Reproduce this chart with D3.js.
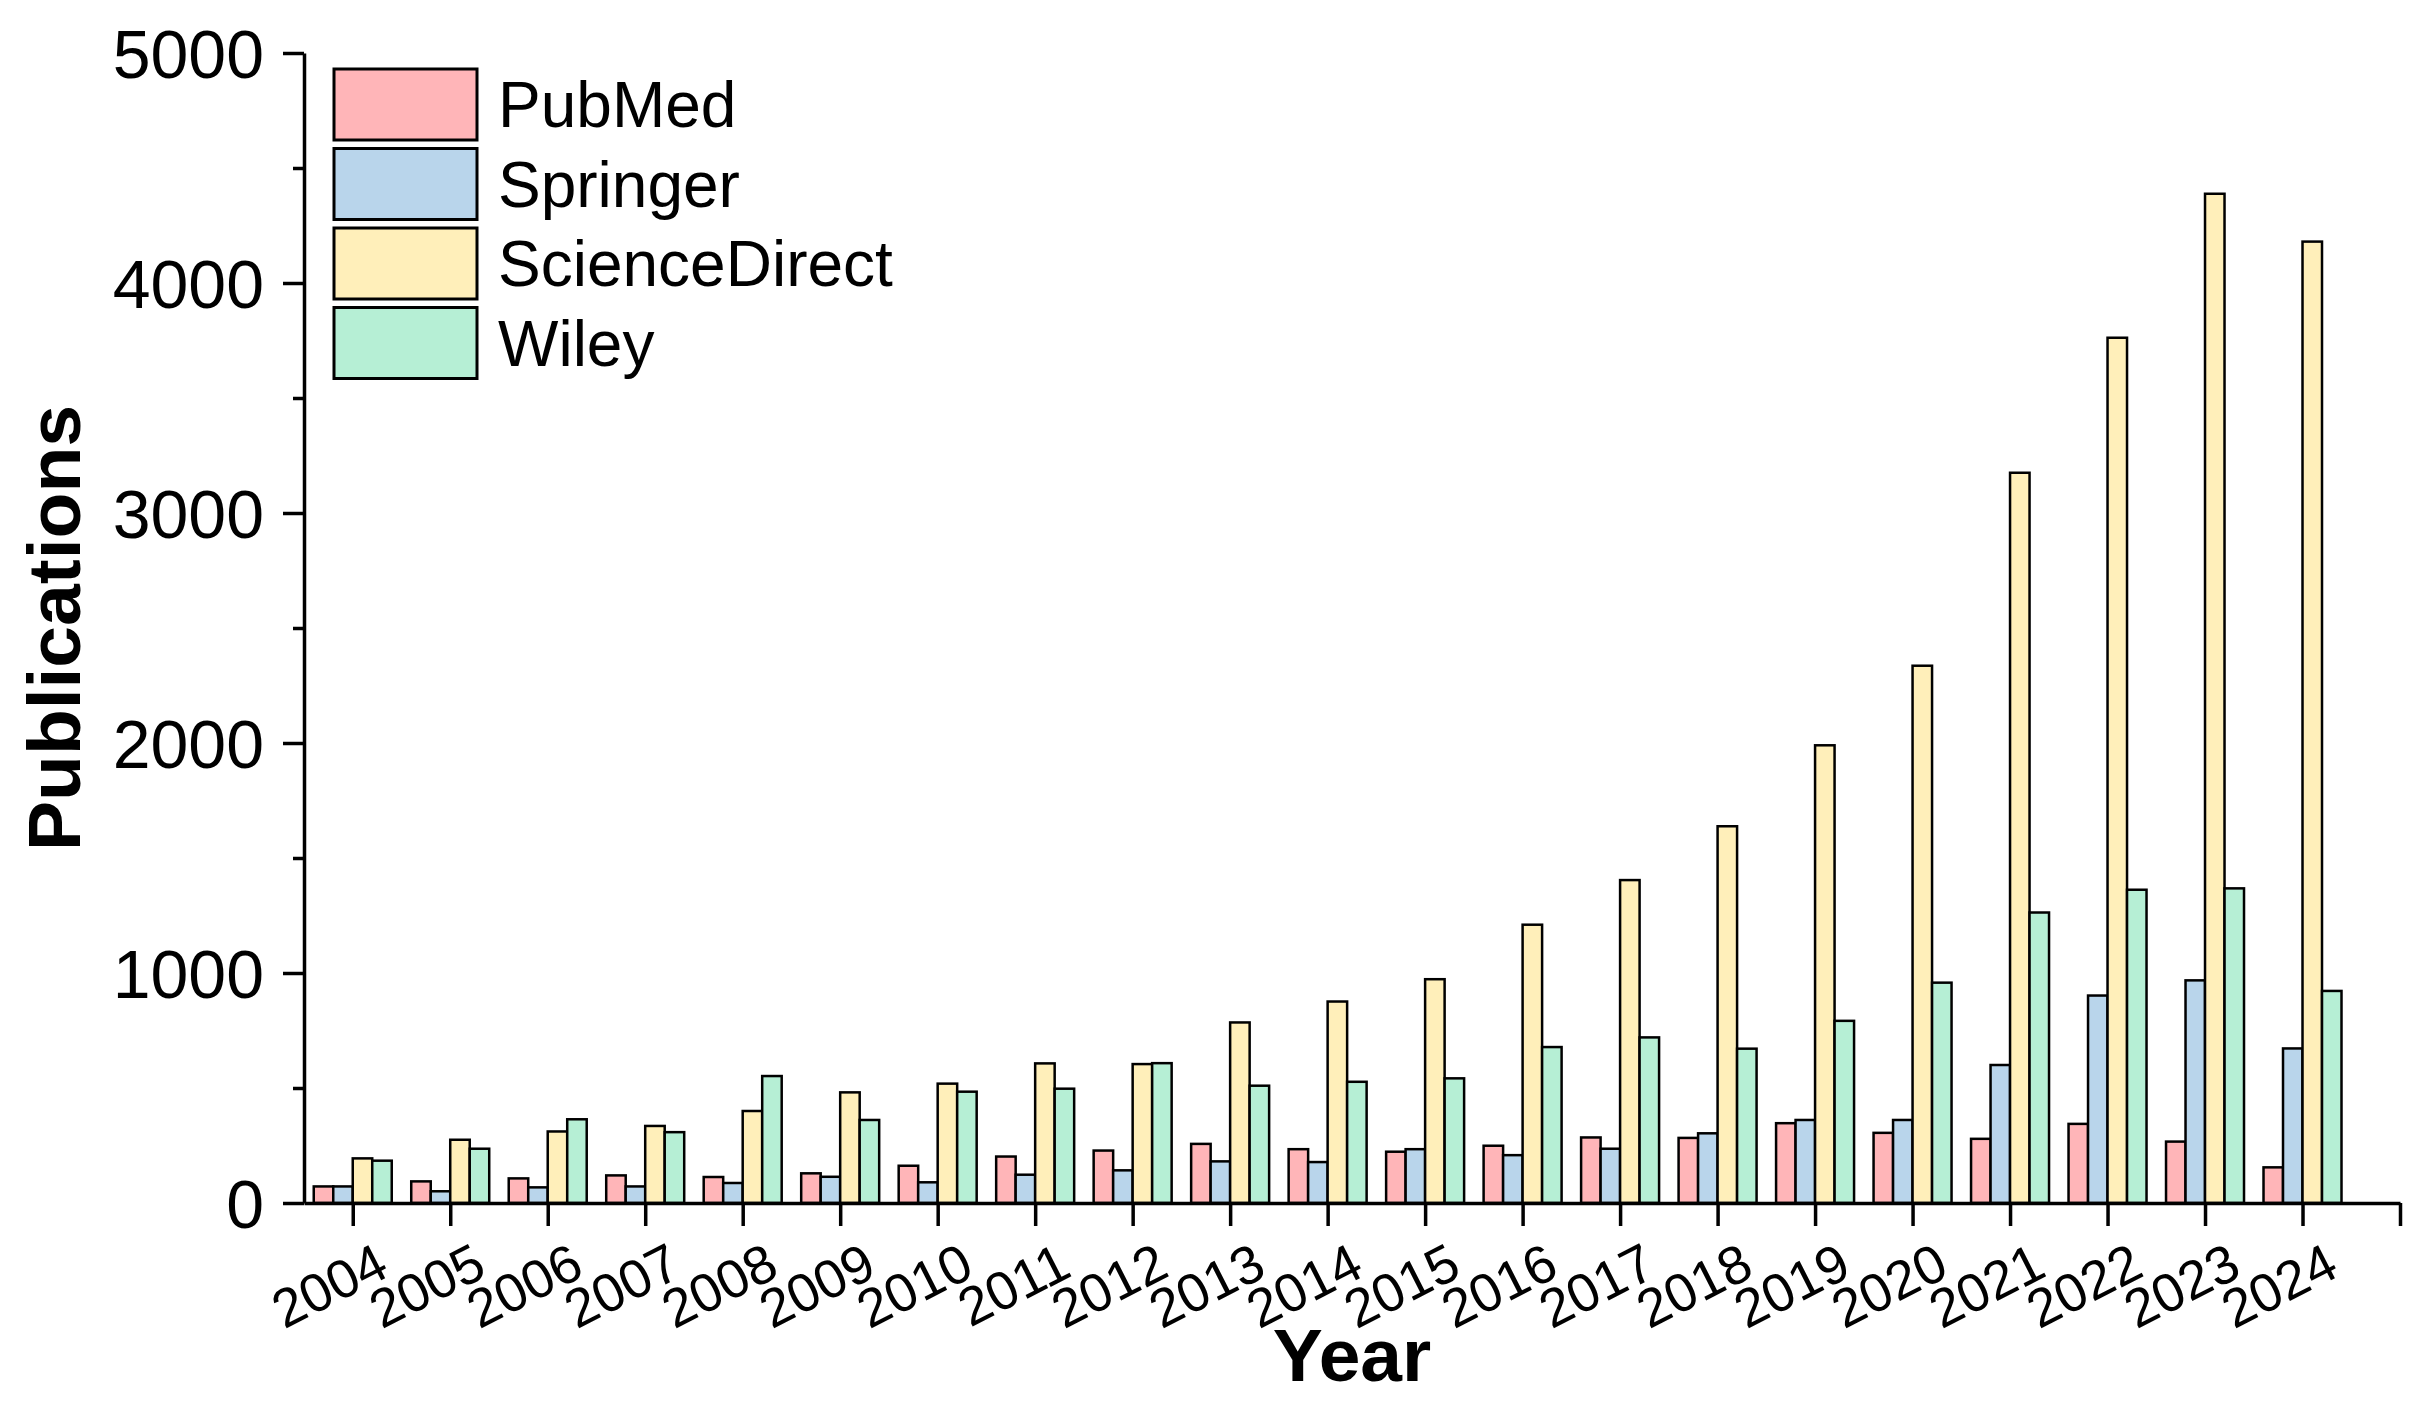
<!DOCTYPE html>
<html>
<head>
<meta charset="utf-8">
<script src="https://cdn.jsdelivr.net/npm/d3@7"></script>
<style>
  body { margin: 0; background: #fff; }
  svg text { font-family: "Liberation Sans", Arial, sans-serif; fill: #000; }
</style>
</head>
<body>
<svg id="chart"></svg>
<script>
// values
var years = [2004, 2005, 2006, 2007, 2008, 2009, 2010, 2011, 2012, 2013, 2014,
             2015, 2016, 2017, 2018, 2019, 2020, 2021, 2022, 2023, 2024];
var seriesNames = ["PubMed", "Springer", "ScienceDirect", "Wiley"];
var pubmed = [72, 94, 107, 120, 113, 129, 162, 202, 228, 257, 234,
              223, 249, 285, 283, 347, 305, 279, 344, 267, 155];
var springer = [72, 51, 68, 72, 87, 114, 90, 123, 142, 181, 178,
                234, 208, 236, 303, 361, 361, 600, 902, 968, 672];
var scienceDirect = [194, 275, 311, 335, 400, 481, 519, 607, 604, 785, 876,
                     973, 1210, 1404, 1638, 1990, 2336, 3175, 3762, 4388, 4180];
var wiley = [184, 236, 364, 308, 552, 361, 484, 497, 608, 510, 527,
             542, 678, 720, 671, 792, 958, 1263, 1362, 1368, 922];
var yTicks = [0, 1000, 2000, 3000, 4000, 5000];
var yMinor = [500, 1500, 2500, 3500, 4500];
var xTicks = [2004, 2005, 2006, 2007, 2008, 2009, 2010, 2011, 2012, 2013, 2014,
              2015, 2016, 2017, 2018, 2019, 2020, 2021, 2022, 2023, 2024, 2025];

var colors = ["#FFB5B8", "#B9D5EB", "#FFEFBA", "#B6EFD5"];
var series = [pubmed, springer, scienceDirect, wiley];

var width = 2432, height = 1410;
var margin = {left: 304, right: 2400, top: 53, bottom: 1203};

var svg = d3.select("#chart")
    .attr("width", width)
    .attr("height", height);

var x = d3.scaleLinear()
    .domain([2003.5, 2025])
    .range([margin.left, margin.right]);

var y = d3.scaleLinear()
    .domain([0, 5000])
    .range([margin.bottom, margin.top]);

var slot = x(2005) - x(2004);
var barW = slot * 0.2;

// bars
series.forEach(function(vals, i) {
  svg.append("g")
    .selectAll("rect")
    .data(vals)
    .enter().append("rect")
      .attr("x", function(d, j) { return x(years[j]) + (i - 2) * barW; })
      .attr("y", function(d) { return y(d); })
      .attr("width", barW)
      .attr("height", function(d) { return y(0) - y(d); })
      .style("fill", colors[i])
      .style("stroke", "#000")
      .style("stroke-width", 2.5);
});

// y axis
var yAxis = d3.axisLeft(y)
    .tickValues(yTicks)
    .tickSize(21)
    .tickSizeOuter(0)
    .tickPadding(19)
    .tickFormat(d3.format("d"));

var gy = svg.append("g")
    .attr("transform", "translate(" + margin.left + ",0)")
    .call(yAxis);
gy.selectAll("text")
    .style("font-size", "68px")
    .attr("dy", "0.36em");

svg.append("g")
    .attr("transform", "translate(" + margin.left + ",0)")
    .call(d3.axisLeft(y).tickValues(yMinor).tickSize(11).tickSizeOuter(0).tickFormat(""))
    .select(".domain").remove();

// x axis
var xAxis = d3.axisBottom(x)
    .tickValues(xTicks)
    .tickSize(23)
    .tickSizeOuter(0)
    .tickFormat(function(d) { return d <= 2024 ? d : ""; });

var gx = svg.append("g")
    .attr("transform", "translate(0," + margin.bottom + ")")
    .call(xAxis);
gx.selectAll("text")
    .style("font-size", "54px")
    .attr("text-anchor", "end")
    .attr("y", 0)
    .attr("dy", 0)
    .attr("transform", "translate(38,72) rotate(-27)");

svg.selectAll(".domain, .tick line")
    .style("stroke", "#000")
    .style("stroke-width", 3.5);

// axis titles
svg.append("text")
    .attr("x", (margin.left + margin.right) / 2)
    .attr("y", 1381)
    .attr("text-anchor", "middle")
    .style("font-size", "75px")
    .style("font-weight", "bold")
    .text("Year");

svg.append("text")
    .attr("transform", "translate(80," + (margin.top + margin.bottom) / 2 + ") rotate(-90)")
    .attr("text-anchor", "middle")
    .style("font-size", "75px")
    .style("font-weight", "bold")
    .text("Publications");

// legend
var legend = svg.append("g")
    .attr("transform", "translate(334,69)");

var items = legend.selectAll("g")
    .data(seriesNames)
    .enter().append("g")
      .attr("transform", function(d, i) { return "translate(0," + i * 79.5 + ")"; });

items.append("rect")
    .attr("width", 143)
    .attr("height", 71)
    .style("fill", function(d, i) { return colors[i]; })
    .style("stroke", "#000")
    .style("stroke-width", 3);

items.append("text")
    .attr("x", 164)
    .attr("y", 58)
    .style("font-size", "64px")
    .text(function(d) { return d; });
</script>
</body>
</html>
